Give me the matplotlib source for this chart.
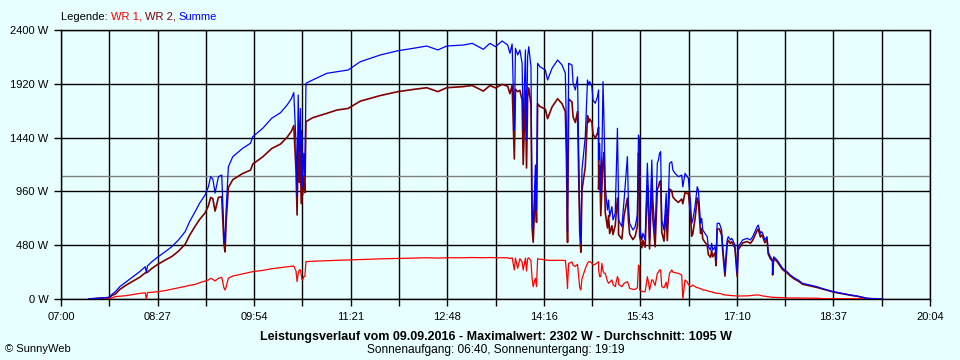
# Leistungsverlauf 09.09.2016 (SunnyWeb)

import matplotlib.pyplot as plt
import numpy as np

zeit = ["07:25", "07:35", "07:42", "07:44", "07:46", "07:49", "07:53", "07:59", "08:05", "08:11",
        "08:16", "08:17", "08:18", "08:22", "08:27", "08:34", "08:40", "08:46", "08:52", "08:56",
        "09:01", "09:05", "09:10", "09:13", "09:15", "09:17", "09:19", "09:22", "09:25", "09:27",
        "09:28", "09:29", "09:31", "09:35", "09:44", "09:51", "09:53", "10:02", "10:10", "10:18",
        "10:24", "10:28", "10:30", "10:32", "10:33", "10:34", "10:35", "10:36", "10:37", "10:37",
        "10:38", "10:39", "10:40", "10:41", "10:47", "11:00", "11:09", "11:19", "11:30", "11:48",
        "12:04", "12:18", "12:30", "12:40", "12:48", "13:03", "13:11", "13:21", "13:27", "13:32",
        "13:38", "13:43", "13:45", "13:47", "13:49", "13:50", "13:52", "13:54", "13:56", "13:57",
        "13:59", "14:00", "14:01", "14:02", "14:04", "14:05", "14:06", "14:07", "14:08", "14:09",
        "14:10", "14:12", "14:17", "14:19", "14:23", "14:28", "14:32", "14:35", "14:36", "14:37",
        "14:37", "14:38", "14:41", "14:42", "14:44", "14:46", "14:47", "14:48", "14:49", "14:50",
        "14:53", "14:55", "14:56", "14:57", "14:59", "15:00", "15:02", "15:04", "15:05", "15:05",
        "15:06", "15:07", "15:08", "15:09", "15:10", "15:11", "15:13", "15:14", "15:15", "15:17",
        "15:18", "15:20", "15:22", "15:23", "15:23", "15:26", "15:28", "15:31", "15:32", "15:33",
        "15:36", "15:38", "15:40", "15:41", "15:42", "15:42", "15:44", "15:45", "15:47", "15:49",
        "15:50", "15:51", "15:53", "15:54", "15:56", "15:58", "15:59", "16:00", "16:01", "16:02",
        "16:04", "16:06", "16:07", "16:09", "16:11", "16:12", "16:14", "16:17", "16:20", "16:21",
        "16:23", "16:25", "16:26", "16:28", "16:29", "16:30", "16:32", "16:34", "16:35", "16:37",
        "16:38", "16:39", "16:41", "16:43", "16:44", "16:46", "16:47", "16:48", "16:50", "16:51",
        "16:52", "16:54", "16:55", "16:56", "16:57", "16:59", "17:01", "17:02", "17:04", "17:05",
        "17:06", "17:08", "17:10", "17:11", "17:13", "17:14", "17:15", "17:19", "17:22", "17:24",
        "17:26", "17:28", "17:29", "17:31", "17:32", "17:33", "17:35", "17:37", "17:38", "17:40",
        "17:42", "17:42", "17:43", "17:46", "17:49", "17:51", "17:55", "17:58", "18:02", "18:05",
        "18:09", "18:22", "18:28", "18:37", "18:52", "18:58", "19:07", "19:12", "19:21"]

# WR 1 (rot)
wr1 = [0, 0, 0, 6, 10, 21, 25, 30, 40, 50,
       55, 0, 57, 60, 65, 75, 88, 100, 112, 122,
       130, 145, 160, 170, 185, 175, 161, 185, 193, 100,
       80, 110, 185, 205, 225, 240, 244, 255, 270, 280,
       288, 292, 294, 250, 155, 230, 260, 259, 200, 180,
       170, 200, 200, 333, 337, 342, 345, 348, 352, 358,
       362, 365, 368, 365, 368, 368, 370, 368, 370, 368,
       368, 368, 360, 368, 259, 365, 274, 360, 330, 259,
       365, 250, 360, 368, 340, 185, 110, 150, 185, 110,
       360, 355, 350, 345, 345, 345, 345, 343, 250, 95,
       120, 318, 330, 300, 290, 310, 200, 100, 80, 180,
       270, 318, 333, 333, 320, 303, 310, 325, 333, 260,
       199, 200, 318, 250, 230, 229, 160, 140, 150, 170,
       130, 110, 200, 170, 130, 110, 140, 155, 130, 95,
       86, 86, 100, 303, 290, 80, 70, 65, 65, 199,
       150, 80, 170, 170, 120, 229, 240, 259, 259, 110,
       100, 150, 95, 229, 259, 240, 235, 229, 214, 0,
       170, 150, 130, 110, 115, 125, 110, 100, 100, 90,
       90, 80, 80, 75, 70, 65, 65, 60, 55, 51,
       51, 50, 48, 45, 40, 36, 35, 33, 32, 30,
       30, 28, 27, 27, 27, 27, 27, 28, 30, 33,
       35, 36, 36, 33, 30, 27, 25, 22, 20, 18,
       15, 15, 15, 14, 13, 12, 10, 9, 9, 9,
       8, 7, 3, 3, 2, 2, 0, 0, 0]

# WR 2 (dunkelrot)
wr2 = [0, 8, 12, 15, 32, 44, 85, 125, 159, 194,
       233, 235, 238, 273, 307, 347, 379, 427, 489, 568,
       649, 709, 768, 832, 906, 895, 784, 906, 913, 490,
       420, 690, 995, 1065, 1120, 1150, 1204, 1268, 1342, 1382,
       1443, 1499, 1547, 1150, 750, 1420, 1040, 1419, 850, 1200,
       928, 1100, 950, 1582, 1617, 1657, 1686, 1700, 1765, 1815,
       1850, 1870, 1885, 1850, 1885, 1895, 1905, 1855, 1905, 1883,
       1915, 1898, 1832, 1907, 1249, 1872, 1850, 1862, 1773, 1200,
       1857, 1169, 1802, 1883, 1733, 639, 506, 750, 1011, 684,
       1743, 1718, 1693, 1609, 1713, 1787, 1743, 1671, 1250, 505,
       614, 1785, 1758, 1625, 1575, 1673, 1129, 600, 417, 971,
       1178, 1636, 1576, 1606, 1574, 1472, 1436, 1480, 1532, 980,
       1190, 743, 982, 1240, 1307, 773, 634, 743, 584, 654,
       575, 655, 900, 713, 575, 535, 743, 900, 694, 580,
       530, 559, 650, 1300, 1200, 565, 457, 521, 462, 1012,
       793, 447, 1070, 713, 466, 982, 1000, 1041, 1055, 595,
       516, 793, 521, 982, 966, 911, 886, 862, 892, 850,
       951, 941, 947, 744, 560, 580, 714, 902, 872, 585,
       630, 536, 506, 481, 397, 372, 432, 377, 412, 297,
       624, 625, 597, 571, 427, 204, 492, 523, 495, 511,
       497, 454, 202, 440, 470, 484, 500, 513, 497, 523,
       566, 609, 624, 553, 571, 559, 502, 534, 402, 359,
       333, 214, 362, 334, 290, 262, 234, 205, 176, 161,
       132, 103, 87, 62, 34, 25, 6, 3, 0]

# Summe (blau)
summe = [0, 8, 12, 21, 42, 65, 110, 155, 199, 244,
         288, 235, 295, 333, 372, 422, 467, 527, 601, 690,
         779, 854, 928, 1002, 1091, 1070, 945, 1091, 1106, 590,
         500, 800, 1180, 1270, 1345, 1390, 1448, 1523, 1612, 1662,
         1731, 1791, 1841, 1400, 913, 1820, 1300, 1700, 1050, 1500,
         1000, 1300, 1100, 1925, 1954, 2014, 2028, 2043, 2117, 2177,
         2215, 2237, 2257, 2222, 2257, 2266, 2281, 2228, 2281, 2251,
         2302, 2266, 2192, 2275, 1508, 2237, 2177, 2222, 2103, 1508,
         2222, 1419, 2162, 2251, 2073, 824, 616, 900, 1196, 794,
         2103, 2073, 2043, 1954, 2058, 2132, 2088, 2014, 1500, 600,
         734, 2103, 2088, 1925, 1865, 1983, 1329, 700, 497, 1151,
         1448, 1954, 1909, 1939, 1894, 1775, 1746, 1805, 1865, 1240,
         1389, 943, 1300, 1939, 1537, 1002, 794, 883, 734, 824,
         705, 765, 1523, 883, 705, 645, 883, 1270, 824, 675,
         616, 645, 750, 1463, 1419, 645, 527, 586, 527, 1211,
         943, 527, 1240, 883, 586, 1211, 1240, 1300, 1314, 705,
         616, 943, 616, 1211, 1225, 1151, 1121, 1091, 1106, 1000,
         1121, 1091, 1077, 854, 675, 705, 824, 1002, 972, 675,
         720, 616, 586, 556, 467, 437, 497, 437, 467, 348,
         675, 675, 645, 616, 467, 240, 527, 556, 527, 541,
         527, 482, 229, 467, 497, 511, 527, 541, 527, 556,
         601, 645, 660, 586, 601, 586, 527, 556, 422, 377,
         348, 229, 377, 348, 303, 274, 244, 214, 185, 170,
         140, 110, 90, 65, 36, 27, 6, 3, 0]

x_labels = ["07:00", "08:27", "09:54", "11:21", "12:48", "14:16", "15:43", "17:10", "18:37", "20:04"]
y_werte = [0, 480, 960, 1440, 1920, 2400]
durchschnitt = 1095


def minuten(s):
    h, m = s.split(":")
    return int(h) * 60 + int(m)


t = [minuten(z) for z in zeit]
x_start = minuten(x_labels[0])
x_end = minuten(x_labels[-1])

bg = "#e8ffff"
plt.rcParams["font.family"] = ["Liberation Sans", "DejaVu Sans"]
plt.rcParams["font.size"] = 8

fig = plt.figure(figsize=(9.6, 3.6), dpi=100, facecolor=bg)
ax = fig.add_axes([61 / 960, 61 / 360, 869 / 960, 269 / 360], facecolor=bg)

# grid: a line every half label step, labels on every second one
xt = np.linspace(x_start, x_end, 2 * len(x_labels) - 1)
xl = []
for i in range(len(xt)):
    xl.append(x_labels[i // 2] if i % 2 == 0 else "")
ax.set_xticks(xt)
ax.set_xticklabels(xl)
ax.set_yticks(y_werte)
ax.set_yticklabels([str(v) + " W" for v in y_werte])
ax.set_xlim(x_start, x_end)
ax.set_ylim(0, 2400)
ax.grid(True, color="black", linewidth=1.0)
ax.tick_params(length=5, width=1.0, pad=4, labelsize=8)
for s in ax.spines.values():
    s.set_color("black")
    s.set_linewidth(1.0)

ax.axhline(durchschnitt, color="#808080", linewidth=1.0, zorder=2.5)
ax.plot(t, wr1, color="#ff0000", linewidth=0.9, zorder=3)
ax.plot(t, wr2, color="#800000", linewidth=1.2, zorder=3)
ax.plot(t, summe, color="#0000ff", linewidth=0.9, zorder=4)

# Legende: coloured words one after another
fig.canvas.draw()
r = fig.canvas.get_renderer()
xpos = 61 / 960
for txt, col in [("Legende: ", "black"), ("WR 1, ", "#ff0000"), ("WR 2, ", "#800000"), ("Summe", "#0000ff")]:
    tt = fig.text(xpos, 1 - 16.5 / 360, txt, color=col, fontsize=8, va="center", ha="left")
    bb = tt.get_window_extent(renderer=r)
    xpos = xpos + bb.width / 960

mitte = (61 + 930) / 2 / 960
fig.text(mitte, 1 - 337 / 360,
         "Leistungsverlauf vom 09.09.2016 - Maximalwert: 2302 W - Durchschnitt: 1095 W",
         ha="center", va="center", fontsize=9, fontweight="bold")
fig.text(mitte, 1 - 350 / 360, "Sonnenaufgang: 06:40, Sonnenuntergang: 19:19",
         ha="center", va="center", fontsize=8.6)
fig.text(5 / 960, 1 - 349 / 360, "© SunnyWeb", ha="left", va="center", fontsize=8)

plt.savefig("out.png", dpi=100, facecolor=bg)
